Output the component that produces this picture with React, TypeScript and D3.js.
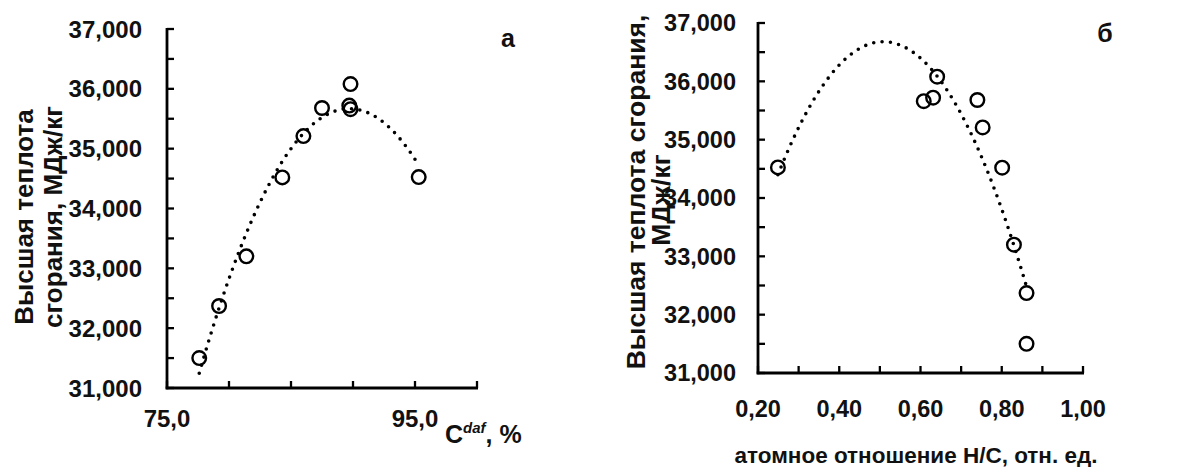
import React from 'react';
import * as d3 from 'd3';

// ---- data ----
const carbonDaf = [77.6, 79.2, 81.4, 84.3, 86.0, 87.5, 89.8, 89.7, 89.8, 95.3];
const hcRatio = [0.861, 0.861, 0.830, 0.801, 0.753, 0.740, 0.641, 0.631, 0.608, 0.249];
const heatValue = [31500, 32370, 33200, 34520, 35210, 35680, 36080, 35720, 35660, 34525];

const yTickValues = [31000, 32000, 33000, 34000, 35000, 36000, 37000];
const xLabelsA = [75, 95];
const xLabelsB = [0.2, 0.4, 0.6, 0.8, 1.0];

const FONT = '"Liberation Sans", Arial, sans-serif';

function fitQuadratic(xs: number[], ys: number[]) {
  const n = xs.length;
  const mx = d3.mean(xs) as number;
  const u = xs.map((x) => x - mx);
  const S = [0, 0, 0, 0, 0];
  const T = [0, 0, 0];
  for (let i = 0; i < n; i++) {
    for (let k = 0; k < 5; k++) S[k] += Math.pow(u[i], k);
    for (let k = 0; k < 3; k++) T[k] += ys[i] * Math.pow(u[i], k);
  }
  const M = [
    [S[0], S[1], S[2], T[0]],
    [S[1], S[2], S[3], T[1]],
    [S[2], S[3], S[4], T[2]],
  ];
  for (let i = 0; i < 3; i++) {
    let p = i;
    for (let r = i + 1; r < 3; r++) if (Math.abs(M[r][i]) > Math.abs(M[p][i])) p = r;
    [M[i], M[p]] = [M[p], M[i]];
    for (let r = 0; r < 3; r++) {
      if (r === i) continue;
      const f = M[r][i] / M[i][i];
      for (let c = i; c < 4; c++) M[r][c] -= f * M[i][c];
    }
  }
  const c = [M[0][3] / M[0][0], M[1][3] / M[1][1], M[2][3] / M[2][2]];
  return (x: number) => {
    const t = x - mx;
    return c[0] + c[1] * t + c[2] * t * t;
  };
}

type PanelProps = {
  xs: number[];
  ys: number[];
  xDomain: [number, number];
  xRange: [number, number];
  yRange: [number, number];
  minorX: number[];
  xLabels: number[];
  xFormat: (v: number) => string;
  yLabelGap: number;
  xLabelY: number;
  fontSize: number;
};

function Panel(p: PanelProps) {
  const x = d3.scaleLinear().domain(p.xDomain).range(p.xRange);
  const y = d3.scaleLinear().domain([31000, 37000]).range(p.yRange);
  const fit = fitQuadratic(p.xs, p.ys);
  const [x0, x1] = d3.extent(p.xs) as [number, number];
  const samples = d3.range(0, 201).map((i) => x0 + ((x1 - x0) * i) / 200);
  const line = d3
    .line<number>()
    .x((v) => x(v))
    .y((v) => y(fit(v)));
  const yMinor = d3.range(31000, 37001, 500);
  const ax = p.xRange[0];
  const ay = p.yRange[0];
  const fmtY = d3.format(',');
  return (
    <g>
      <line x1={ax} x2={ax} y1={p.yRange[1] - 1} y2={ay + 1.3} stroke="#000" strokeWidth={2.8} />
      <line x1={ax - 1.3} x2={p.xRange[1] + 1} y1={ay} y2={ay} stroke="#000" strokeWidth={2.8} />
      {yMinor.map((t) => (
        <line key={'yt' + t} x1={ax} x2={ax + 7} y1={y(t)} y2={y(t)} stroke="#000" strokeWidth={2.3} />
      ))}
      {p.minorX.map((t) => (
        <line key={'xt' + t} x1={x(t)} x2={x(t)} y1={ay} y2={ay - 7} stroke="#000" strokeWidth={2.3} />
      ))}
      {yTickValues.map((t) => (
        <text
          key={'yl' + t}
          x={ax - p.yLabelGap}
          y={y(t)}
          dy="0.36em"
          textAnchor="end"
          fontFamily={FONT}
          fontWeight="bold"
          fontSize={p.fontSize}
          fill="#111"
        >
          {fmtY(t)}
        </text>
      ))}
      {p.xLabels.map((t) => (
        <text
          key={'xl' + t}
          x={x(t)}
          y={p.xLabelY}
          textAnchor="middle"
          fontFamily={FONT}
          fontWeight="bold"
          fontSize={p.fontSize}
          fill="#111"
        >
          {p.xFormat(t)}
        </text>
      ))}
      <path
        d={line(samples) || ''}
        fill="none"
        stroke="#000"
        strokeWidth={3.6}
        strokeLinecap="round"
        strokeDasharray="0 8.4"
      />
      {p.xs.map((v, i) => (
        <circle key={'pt' + i} cx={x(v)} cy={y(p.ys[i])} r={6.8} fill="none" stroke="#000" strokeWidth={2.4} />
      ))}
    </g>
  );
}

export default function App() {
  const fmtA = (v: number) => v.toFixed(1).replace('.', ',');
  const fmtB = (v: number) => v.toFixed(2).replace('.', ',');
  return (
    <svg
      width={1179}
      height={467}
      style={{ position: 'absolute', left: 0, top: 0, background: '#fff' }}
    >
      <rect x={0} y={0} width={1179} height={467} fill="#fff" />
      <Panel
        xs={carbonDaf}
        ys={heatValue}
        xDomain={[75, 100]}
        xRange={[167, 477]}
        yRange={[388, 29]}
        minorX={d3.range(75, 100.1, 5)}
        xLabels={xLabelsA}
        xFormat={fmtA}
        yLabelGap={25}
        xLabelY={427}
        fontSize={24}
      />
      <Panel
        xs={hcRatio}
        ys={heatValue}
        xDomain={[0.2, 1.0]}
        xRange={[758, 1083]}
        yRange={[373, 23]}
        minorX={d3.range(0.2, 1.0001, 0.1)}
        xLabels={xLabelsB}
        xFormat={fmtB}
        yLabelGap={22}
        xLabelY={417}
        fontSize={23.5}
      />
      <g fontFamily={FONT} fontWeight="bold" fontSize={26} fill="#111">
        <text transform="translate(33,217) rotate(-90)" textAnchor="middle">
          Высшая теплота
        </text>
        <text transform="translate(62,217) rotate(-90)" textAnchor="middle">
          сгорания, МДж/кг
        </text>
      </g>
      <g fontFamily={FONT} fontWeight="bold" fontSize={26.5} fill="#111">
        <text transform="translate(645,192) rotate(-90)" textAnchor="middle">
          Высшая теплота сгорания,
        </text>
        <text transform="translate(670,200) rotate(-90)" textAnchor="middle">
          МДж/кг
        </text>
      </g>
      <text x={445} y={443} fontFamily={FONT} fontWeight="bold" fontSize={25} fill="#111">
        C
        <tspan fontSize={15} fontStyle="italic" dy={-10}>
          daf
        </tspan>
        <tspan dy={10}>, %</tspan>
      </text>
      <text x={916} y={463} textAnchor="middle" fontFamily={FONT} fontWeight="bold" fontSize={22.5} fill="#111">
        атомное отношение Н/С, отн. ед.
      </text>
      <text x={508} y={47} textAnchor="middle" fontFamily={FONT} fontWeight="bold" fontSize={25} fill="#111">
        а
      </text>
      <text x={1105} y={42} textAnchor="middle" fontFamily={FONT} fontWeight="bold" fontSize={25} fill="#111">
        б
      </text>
    </svg>
  );
}
